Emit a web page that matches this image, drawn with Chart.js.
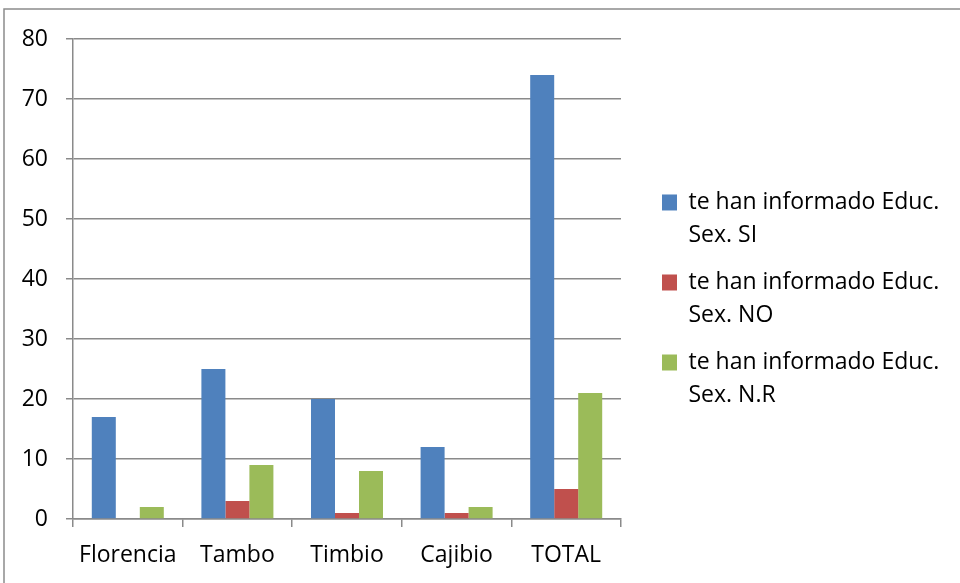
<!DOCTYPE html>
<html>
<head>
<meta charset="utf-8">
<script src="https://cdn.jsdelivr.net/npm/chart.js@4.4.0/dist/chart.umd.min.js"></script>
<style>
  html, body { margin: 0; padding: 0; background: #fff; overflow: hidden; }
  canvas { display: block; }
</style>
</head>
<body>
<canvas id="chart" width="960" height="583"></canvas>
<script>
// Datos
const categories = ['Florencia', 'Tambo', 'Timbio', 'Cajibio', 'TOTAL'];
const seriesLabels = [
  ['te han informado Educ.', 'Sex. SI'],
  ['te han informado Educ.', 'Sex. NO'],
  ['te han informado Educ.', 'Sex. N.R']
];
const valuesSi = [17, 25, 20, 12, 74];
const valuesNo = [0, 3, 1, 1, 5];
const valuesNr = [2, 9, 8, 2, 21];
const yMin = 0;
const yMax = 80;
const yStep = 10;

const colors = ['#4F81BD', '#C0504D', '#9BBB59'];
const fontFamily = "'Open Sans', sans-serif";
const fontSize = 23;
const gridColor = '#8a8a8a';

// la leyenda se limita a 200 px para que el area del grafico termine en x = 621
const legendMaxW = 200;
const rightPad = 960 - 621 - legendMaxW;

// marco gris alrededor del grafico
const framePlugin = {
  id: 'frame',
  beforeDraw(chart) {
    const ctx = chart.ctx;
    ctx.save();
    ctx.strokeStyle = '#8c8c8c';
    ctx.lineWidth = 1.5;
    ctx.strokeRect(4, 9, 1200, 1200);
    ctx.restore();
  }
};

// mueve la leyenda a la derecha y la deja llegar hasta el borde
const legendShift = {
  id: 'legendShift',
  afterLayout(chart) {
    chart.legend.left += 27;
    chart.legend.right = 960;
    chart.legend.width = chart.legend.right - chart.legend.left;
  }
};

const ctx = document.getElementById('chart').getContext('2d');
new Chart(ctx, {
  type: 'bar',
  data: {
    labels: categories,
    datasets: [
      { label: seriesLabels[0], data: valuesSi, backgroundColor: colors[0] },
      { label: seriesLabels[1], data: valuesNo, backgroundColor: colors[1] },
      { label: seriesLabels[2], data: valuesNr, backgroundColor: colors[2] }
    ]
  },
  options: {
    responsive: false,
    animation: false,
    categoryPercentage: 0.657,
    barPercentage: 1,
    layout: { padding: { top: 39, left: 0, right: rightPad, bottom: 14 } },
    plugins: {
      title: { display: false },
      tooltip: { enabled: false },
      legend: {
        position: 'right',
        maxWidth: legendMaxW,
        labels: {
          color: '#000',
          boxWidth: 15,
          boxHeight: 16,
          padding: 14,
          font: { family: fontFamily, size: fontSize, lineHeight: 1.435 }
        }
      }
    },
    scales: {
      x: {
        afterFit: s => { s.height = 50; },
        grid: { drawOnChartArea: false, drawTicks: true, tickLength: 8, color: gridColor, lineWidth: 1.5 },
        border: { color: gridColor, width: 1.5 },
        ticks: { color: '#000', padding: 15, font: { family: fontFamily, size: fontSize } }
      },
      y: {
        min: yMin,
        max: yMax,
        afterFit: s => { s.width = 73; },
        grid: { color: gridColor, lineWidth: 1.5, tickLength: 7 },
        border: { color: gridColor, width: 1.5 },
        ticks: { stepSize: yStep, color: '#000', padding: 18, font: { family: fontFamily, size: fontSize } }
      }
    }
  },
  plugins: [framePlugin, legendShift]
});
</script>
</body>
</html>
